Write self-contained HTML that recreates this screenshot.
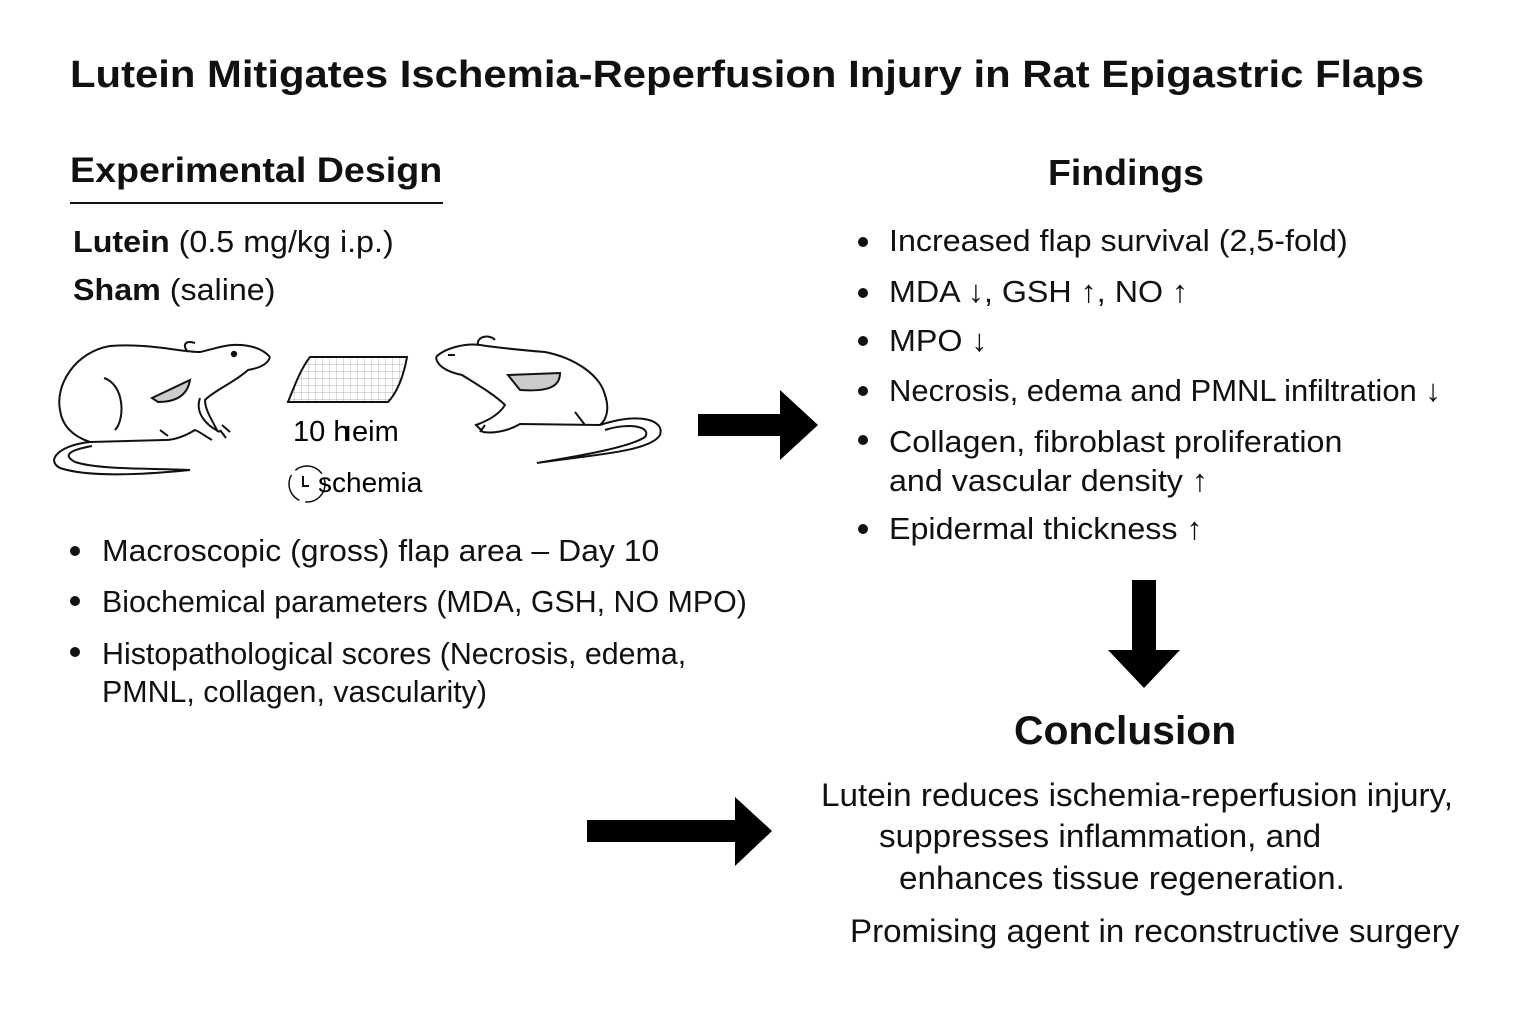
<!DOCTYPE html>
<html><head><meta charset="utf-8"><style>
body{margin:0;width:1536px;height:1024px;background:#fff;font-family:"Liberation Sans",sans-serif;color:#111;position:relative;overflow:hidden}
.t{position:absolute;white-space:nowrap;transform-origin:0 0}
.s{font-size:31px;transform:scaleX(1.04)}
.c{font-size:32px;transform:scaleX(1.04)}
.b{font-weight:bold}
.dot{position:absolute;width:10px;height:10px;border-radius:50%;background:#111}
</style></head><body>
<div class="t b" style="left:70px;top:54px;font-size:38px;transform:scaleX(1.1)">Lutein Mitigates Ischemia-Reperfusion Injury in Rat Epigastric Flaps</div>
<div class="t b" style="left:70px;top:151px;font-size:35px;transform:scaleX(1.075)">Experimental Design</div>
<div style="position:absolute;left:70px;top:202px;width:373px;height:2px;background:#111"></div>
<div class="t s" style="left:73px;top:224px"><b>Lutein</b> (0.5 mg/kg i.p.)</div>
<div class="t s" style="left:73px;top:272px"><b>Sham</b> (saline)</div>

<svg style="position:absolute;left:0;top:0" width="1536" height="1024">
<g fill="none" stroke="#111" stroke-width="2">
<path d="M270,357 C262,348 248,344 232,345 C220,346 210,350 200,352 C180,352 150,343 110,346 C75,352 55,385 60,410 C62,425 72,436 90,442 L165,440 C175,440 185,436 195,430 C200,432 205,436 212,440 M218,432 C212,420 205,410 205,400 C215,390 235,382 248,370 C260,368 268,364 270,357"/>
<path d="M90,442 C60,445 45,460 60,468 C90,478 150,474 190,470 C150,468 100,470 75,462 C62,455 70,450 92,446"/>
<path d="M188,352 C182,345 185,340 195,343"/>
<circle cx="234" cy="354" r="2.2" fill="#111"/>
<path d="M200,398 C195,412 205,425 220,432"/>
<path d="M104,378 C125,385 125,420 115,430"/>
<path d="M222,425 L230,432 M220,430 L226,438 M160,430 L168,436"/>
<path d="M152,398 L190,380 C188,392 180,402 158,402 Z" fill="#ccc"/>
<defs><pattern id="g" width="7" height="7" patternUnits="userSpaceOnUse"><path d="M7,0 L0,0 0,7" stroke="#999" stroke-width="0.7" fill="none"/></pattern></defs>
<path d="M310,357 L407,357 C403,380 395,395 388,402 L288,402 C295,385 300,370 310,357 Z" fill="url(#g)" stroke="#111" stroke-width="2"/>
<path d="M436,357 C445,348 465,343 480,345 C500,348 520,350 545,352 C575,358 600,375 605,395 C610,410 606,420 600,425 L520,424 C510,430 495,434 483,432 L476,425 C490,420 500,413 505,405 C495,395 478,385 462,375 C448,372 437,367 436,357"/>
<path d="M600,425 C640,412 665,420 660,435 C650,452 590,455 537,463 C585,455 630,447 645,437 C652,427 630,422 605,430"/>
<path d="M478,345 C476,336 490,334 495,340"/>
<path d="M448,355 L455,355"/>
<path d="M508,375 L560,373 C560,386 550,392 520,390 Z" fill="#ccc"/>
<path d="M575,412 L585,425 M485,425 L480,432"/>
</g>
<text x="293" y="441" font-family="Liberation Sans" font-size="29">10 h</text>
<text x="344" y="441" font-family="Liberation Sans" font-size="29">ıeim</text>
<circle cx="307" cy="484" r="18" fill="none" stroke="#111" stroke-width="1.5" stroke-dasharray="30 6"/>
<path d="M303,476 L303,486 L309,486" stroke="#111" stroke-width="2" fill="none"/>
<text x="318" y="492" font-family="Liberation Sans" font-size="28">schemia</text>
<polygon points="698,414 780,414 780,390 818,425 780,460 780,436 698,436" fill="#000"/>
<polygon points="1132,580 1156,580 1156,650 1180,650 1144,688 1108,650 1132,650" fill="#000"/>
<polygon points="587,820 735,820 735,797 772,831 735,866 735,842 587,842" fill="#000"/>
</svg>

<div class="dot" style="left:70px;top:546px"></div>
<div class="t s" style="left:102px;top:533px;transform:scaleX(1.03)">Macroscopic (gross) flap area – Day 10</div>
<div class="dot" style="left:70px;top:596px"></div>
<div class="t s" style="left:102px;top:584px;transform:scaleX(0.98)">Biochemical parameters (MDA, GSH, NO MPO)</div>
<div class="dot" style="left:70px;top:647px"></div>
<div class="t s" style="left:102px;top:635px;line-height:38px;transform:scaleX(0.98)">Histopathological scores (Necrosis, edema,<br>PMNL, collagen, vascularity)</div>

<div class="t b" style="left:1048px;top:152px;font-size:36px;transform:scaleX(1.04)">Findings</div>
<div class="dot" style="left:858px;top:237px"></div>
<div class="t s" style="left:889px;top:223px">Increased flap survival (2,5-fold)</div>
<div class="dot" style="left:858px;top:288px"></div>
<div class="t s" style="left:889px;top:274px">MDA ↓, GSH ↑, NO ↑</div>
<div class="dot" style="left:858px;top:336px"></div>
<div class="t s" style="left:889px;top:323px">MPO ↓</div>
<div class="dot" style="left:858px;top:386px"></div>
<div class="t s" style="left:889px;top:373px;transform:scaleX(1.0)">Necrosis, edema and PMNL infiltration ↓</div>
<div class="dot" style="left:858px;top:435px"></div>
<div class="t s" style="left:889px;top:422px;line-height:39px">Collagen, fibroblast proliferation<br>and vascular density ↑</div>
<div class="dot" style="left:858px;top:524px"></div>
<div class="t s" style="left:889px;top:511px">Epidermal thickness ↑</div>

<div class="t b" style="left:1014px;top:709px;font-size:40px;transform:scaleX(1.02)">Conclusion</div>
<div class="t c" style="left:821px;top:777px">Lutein reduces ischemia-reperfusion injury,</div>
<div class="t c" style="left:879px;top:818px">suppresses inflammation, and</div>
<div class="t c" style="left:899px;top:860px">enhances tissue regeneration.</div>
<div class="t c" style="left:850px;top:913px;transform:scaleX(1.035)">Promising agent in reconstructive surgery</div>
</body></html>
